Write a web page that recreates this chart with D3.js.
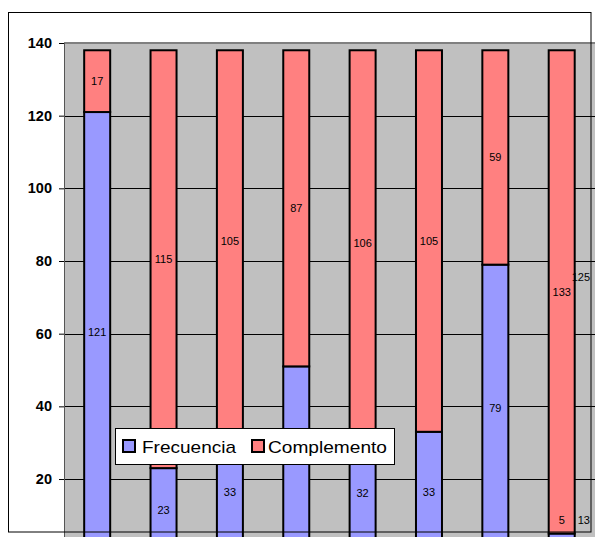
<!DOCTYPE html>
<html>
<head>
<meta charset="utf-8">
<script src="https://cdn.jsdelivr.net/npm/d3@7"></script>
<style>
  body { margin: 0; background: #fff; }
  text { font-family: Arial, "Liberation Sans", sans-serif; }
</style>
</head>
<body>
<svg id="chart"></svg>
<script>
const categories = ["1", "2", "3", "4", "5", "6", "7", "8", "9"];
const frecuencia = [121, 23, 33, 51, 32, 33, 79, 5, 13];
const complemento = [17, 115, 105, 87, 106, 105, 59, 133, 125];
const yTicks = [20, 40, 60, 80, 100, 120, 140];

const width = 595, height = 537;
const plot = { left: 64, top: 43, step: 66.36, barW: 26 };
const frame = { x: 8.5, y: 12.5, x2: 591, y2: 532 };

const svg = d3.select("#chart").attr("width", width).attr("height", height);

const x = d3
  .scaleBand()
  .domain(categories)
  .range([plot.left, plot.left + plot.step * categories.length])
  .padding(0);

const y = d3.scaleLinear().domain([0, 140]).range([551.7, plot.top]);

// plot area
svg.append("rect")
  .attr("x", plot.left)
  .attr("y", plot.top)
  .attr("width", plot.step * categories.length)
  .attr("height", y(0) - plot.top)
  .attr("fill", "#C0C0C0");

// gridlines
svg.selectAll(".grid")
  .data(yTicks)
  .join("line")
  .attr("class", "grid")
  .attr("x1", plot.left)
  .attr("x2", width)
  .attr("y1", (d) => Math.round(y(d)) + 0.5)
  .attr("y2", (d) => Math.round(y(d)) + 0.5)
  .attr("stroke", "#000")
  .attr("stroke-width", 1);

// plot border top
svg.append("line")
  .attr("x1", plot.left).attr("x2", width)
  .attr("y1", plot.top).attr("y2", plot.top)
  .attr("stroke", "#808080").attr("stroke-width", 2);

// y axis
const yAxis = svg.append("g")
  .attr("transform", `translate(${plot.left}, 0)`)
  .call(d3.axisLeft(y).tickValues(yTicks).tickSize(5).tickPadding(7));
yAxis.select(".domain").attr("stroke", "#555").attr("d", `M0.5,${plot.top}V${height}`);
yAxis.selectAll(".tick line").attr("stroke", "#000");
yAxis.selectAll(".tick text")
  .attr("font-size", "14.5px")
  .attr("font-weight", "bold")
  .attr("fill", "#000")
  .attr("font-family", "Arial, 'Liberation Sans', sans-serif");

// stacked bars
const rows = categories.map((c, i) => ({ cat: c, f: frecuencia[i], c: complemento[i] }));
const cx = (d) => x(d.cat) + x.bandwidth() / 2;

svg.selectAll(".bar-f")
  .data(rows)
  .join("rect")
  .attr("class", "bar-f")
  .attr("x", (d) => cx(d) - plot.barW / 2)
  .attr("width", plot.barW)
  .attr("y", (d) => y(d.f))
  .attr("height", (d) => y(0) - y(d.f))
  .attr("fill", "#9999FF")
  .attr("stroke", "#000")
  .attr("stroke-width", 2);

svg.selectAll(".bar-c")
  .data(rows)
  .join("rect")
  .attr("class", "bar-c")
  .attr("x", (d) => cx(d) - plot.barW / 2)
  .attr("width", plot.barW)
  .attr("y", (d) => y(d.f + d.c))
  .attr("height", (d) => y(d.f) - y(d.f + d.c))
  .attr("fill", "#FF8080")
  .attr("stroke", "#000")
  .attr("stroke-width", 2);

// data labels, kept inside the chart frame
const labels = [];
rows.forEach((d) => {
  labels.push({ v: d.f, cx: cx(d), cy: y(d.f / 2) });
  labels.push({ v: d.c, cx: cx(d), cy: y(d.f + d.c / 2) });
});
svg.selectAll(".lbl")
  .data(labels)
  .join("text")
  .attr("class", "lbl")
  .attr("font-size", "11px")
  .attr("fill", "#000")
  .attr("text-anchor", "middle")
  .attr("dy", "0.35em")
  .text((d) => d.v)
  .each(function (d) {
    const t = d3.select(this);
    const w = this.getComputedTextLength();
    const px = Math.min(d.cx, frame.x2 - 1 - w / 2);
    const py = Math.min(d.cy, frame.y2 - 12);
    t.attr("x", px).attr("y", py);
  });

// chart frame
svg.append("rect")
  .attr("x", frame.x)
  .attr("y", frame.y)
  .attr("width", frame.x2 - frame.x)
  .attr("height", frame.y2 - frame.y)
  .attr("fill", "none")
  .attr("stroke", "#000")
  .attr("stroke-width", 1);

// legend
const legendData = [
  { label: "Frecuencia", color: "#9999FF", sx: 123, tx: 142, tw: 94 },
  { label: "Complemento", color: "#FF8080", sx: 252, tx: 268, tw: 119 },
];
const legend = svg.append("g");
legend.append("rect")
  .attr("x", 115.5).attr("y", 428.5)
  .attr("width", 279).attr("height", 36)
  .attr("fill", "#fff")
  .attr("stroke", "#000");
legend.selectAll(".sw")
  .data(legendData)
  .join("rect")
  .attr("class", "sw")
  .attr("x", (d) => d.sx).attr("y", 440)
  .attr("width", 12).attr("height", 12)
  .attr("fill", (d) => d.color)
  .attr("stroke", "#000").attr("stroke-width", 2);
legend.selectAll(".lt")
  .data(legendData)
  .join("text")
  .attr("class", "lt")
  .attr("x", (d) => d.tx).attr("y", 453)
  .attr("font-size", "17px")
  .attr("fill", "#000")
  .attr("textLength", (d) => d.tw)
  .attr("lengthAdjust", "spacingAndGlyphs")
  .text((d) => d.label);
</script>
</body>
</html>
